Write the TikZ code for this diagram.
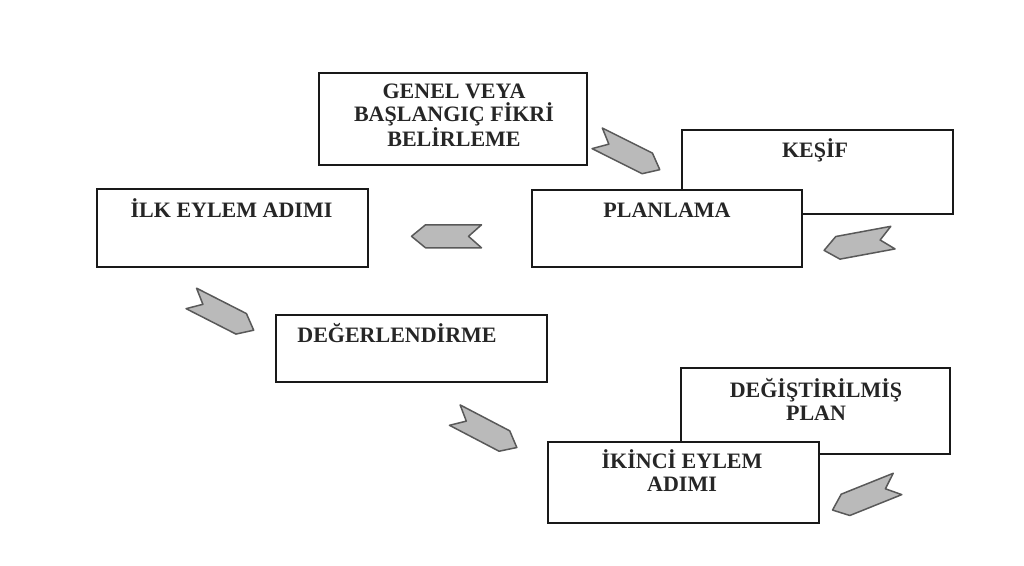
\documentclass[tikz,border=0pt]{standalone}
\usepackage{fontspec}
\setmainfont{Liberation Serif}
\begin{document}
\begin{tikzpicture}[x=1pt,y=-1pt,
  box/.style={draw=black!90, line width=2.3pt, fill=white, rectangle, inner sep=0pt},
  lbl/.style={font=\fontsize{22}{23}\selectfont\bfseries, text=black!85,
              align=center, inner sep=0pt, anchor=base},
  chev/.style={draw=black!65, fill=black!27, line width=1.5pt, line join=round}]
\useasboundingbox (0,0) rectangle (1024,565);

% notched block arrow, pointing along local +x
\newcommand\chevron[3]{%
  \begin{scope}[shift={(#1,#2)}, rotate=#3]
    \draw[chev] (-35,-11.5) -- (21,-11.5) -- (35,0) -- (21,11.5)
                -- (-35,11.5) -- (-22,0) -- cycle;
  \end{scope}}

% boxes lying behind
\node[box, minimum width=271, minimum height=84] (kesif) at (817.5,172) {};
\node[box, minimum width=269, minimum height=86] (degplan) at (815.5,411) {};

% front boxes
\node[box, minimum width=268, minimum height=92] (genel) at (453,119) {};
\node[box, minimum width=270, minimum height=77] (plan) at (667,228.5) {};
\node[box, minimum width=271, minimum height=78] (ilk) at (232.5,228) {};
\node[box, minimum width=271, minimum height=67] (deger) at (411.5,348.5) {};
\node[box, minimum width=271, minimum height=81] (ikinci) at (683.5,482.5) {};

% labels (base = baseline of the last line)
\node[lbl] (tgenel) at (454,146) {GENEL VEYA\\BAŞLANGIÇ FİKRİ\\BELİRLEME};
\node[lbl] (tkesif) at (815,157) {KEŞİF};
\node[lbl] (tplan) at (667,217) {PLANLAMA};
\node[lbl] (tilk) at (231.5,217) {İLK EYLEM ADIMI};
\node[lbl] (tdeger) at (397,342.5) {DEĞERLENDİRME};
\node[lbl] (tdegplan) at (816,420) {DEĞİŞTİRİLMİŞ\\PLAN};
\node[lbl] (tikinci) at (682,491.5) {İKİNCİ EYLEM\\ADIMI};

% block arrows
\chevron{628.5}{154}{-26.6}
\chevron{446.5}{236.3}{180}
\chevron{858.5}{244}{190.5}
\chevron{222.5}{314.3}{-27}
\chevron{485.8}{431.3}{-27.6}
\chevron{865}{497}{201.9}
\end{tikzpicture}
\end{document}
